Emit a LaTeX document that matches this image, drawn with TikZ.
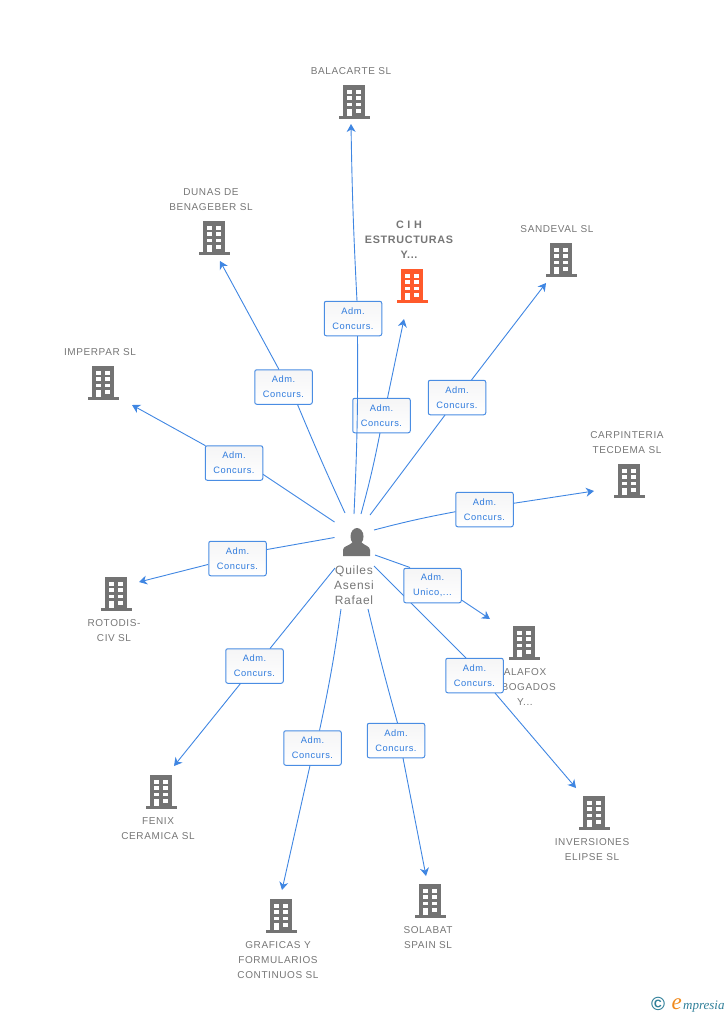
\documentclass[tikz,border=0pt]{standalone}
\usepackage{fontspec}
\setmainfont{Liberation Sans}
\newfontfamily\spaced[LetterSpace=6]{Liberation Sans}
\newfontfamily\spacedb[LetterSpace=6]{Liberation Sans Bold}
\newfontfamily\logoserif{Liberation Serif Italic}
\newfontfamily\logobold{Liberation Sans Bold}
\usetikzlibrary{arrows.meta}
\definecolor{gtxt}{HTML}{767676}
\definecolor{gicon}{HTML}{737373}
\definecolor{oicon}{HTML}{FF5A2B}
\definecolor{bline}{HTML}{3F86E2}
\definecolor{bbox}{HTML}{4A8DE3}
\definecolor{btxt}{HTML}{2F7BDD}
\definecolor{teal}{HTML}{2F7F99}
\definecolor{orng}{HTML}{F08A1D}
\definecolor{boxtop}{HTML}{F5F5F6}
\tikzset{
  x=1pt,y=-1pt,
  conn/.style={bline,line width=0.9pt},
  arr/.style={conn,-{Stealth[length=8pt,width=9pt,inset=2.5pt]}},
  lab/.style={draw=bbox,line width=1pt,top color=boxtop,bottom color=white,rounded corners=2pt,minimum width=57.5pt,minimum height=34.5pt,inner sep=0pt,align=center,text=btxt,font=\spaced\fontsize{9.3}{15}\selectfont},
  bname/.style={text=gtxt,align=center,inner sep=0pt,font=\spaced\fontsize{10}{15}\selectfont},
  pics/bldg/.style={code={
    \fill[#1] (-11,-17) rectangle (11,14);
    \fill[#1] (-15,14) rectangle (16,16.5);
    \foreach \yy/\zz in {-12.5/-8.5,-6/-2,0.5/4,7/11}{
      \fill[white] (2,\yy) rectangle (7,\zz);}
    \foreach \yy/\zz in {-12.5/-8.5,-6/-2,0.5/4,7/14}{
      \fill[white] (-7,\yy) rectangle (-2,\zz);}
  }},
}
\begin{document}
\begin{tikzpicture}
\useasboundingbox (0,0) rectangle (728,1015);
% buildings
\pic at (354,102) {bldg=gicon};
\pic at (412,286) {bldg=oicon};
\pic at (561,260) {bldg=gicon};
\pic at (214,238) {bldg=gicon};
\pic at (103,383) {bldg=gicon};
\pic at (629,481) {bldg=gicon};
\pic at (116,594) {bldg=gicon};
\pic at (524,643) {bldg=gicon};
\pic at (161,792) {bldg=gicon};
\pic at (281,916) {bldg=gicon};
\pic at (430,901) {bldg=gicon};
\pic at (594,813) {bldg=gicon};
% building names
\node[bname] (nBal) at (351,71) {BALACARTE SL};
\node[bname,font=\spacedb\fontsize{10.8}{15}\selectfont] (nCih) at (409,240) {C I H\\ESTRUCTURAS\\Y...};
\node[bname] (nSan) at (557,229) {SANDEVAL SL};
\node[bname] (nDun) at (211,199.5) {DUNAS DE\\BENAGEBER SL};
\node[bname] (nImp) at (100,352) {IMPERPAR SL};
\node[bname] (nCar) at (627,442.5) {CARPINTERIA\\TECDEMA SL};
\node[bname] (nRot) at (114,631) {ROTODIS-\\CIV SL};
\node[bname] (nAla) at (525,687) {ALAFOX\\ABOGADOS\\Y...};
\node[bname] (nFen) at (158,828.5) {FENIX\\CERAMICA SL};
\node[bname] (nGra) at (278,960) {GRAFICAS Y\\FORMULARIOS\\CONTINUOS SL};
\node[bname] (nSol) at (428,937.5) {SOLABAT\\SPAIN SL};
\node[bname] (nInv) at (592,849.5) {INVERSIONES\\ELIPSE SL};
% person
\fill[gicon] (357,536.5) ellipse (6.5 and 8.5);
\fill[gicon] (343,556) -- (343,550) .. controls (343,546) and (349,546) .. (353,542) -- (361,542) .. controls (365,546) and (370,546) .. (370,550) -- (370,556) -- cycle;
\node[bname,font=\spaced\fontsize{12}{15}\selectfont] (person) at (354,585) {Quiles\\Asensi\\Rafael};
% start and end points
\coordinate (s1) at (361,514);   \coordinate (e1) at (404,319);
\coordinate (s2) at (354,514);   \coordinate (e2) at (351,124);
\coordinate (s3) at (370,515);   \coordinate (e3) at (546,283);
\coordinate (s4) at (374,530);   \coordinate (e4) at (594,491);
\coordinate (s5) at (374,566);   \coordinate (e5) at (576,788);
\coordinate (s6) at (375,555);   \coordinate (e6) at (490,619);
\coordinate (s7) at (368,609);   \coordinate (e7) at (426,876);
\coordinate (s8) at (341,609);   \coordinate (e8) at (282,890);
\coordinate (s9) at (335,568);   \coordinate (e9) at (174,766);
\coordinate (s10) at (334.5,537.5); \coordinate (e10) at (139,582);
\coordinate (s11) at (334.5,522);   \coordinate (e11) at (132,405);
\coordinate (s12) at (345,513);  \coordinate (e12) at (220,261);
% CIH
\node[lab] (l1) at (381.5,415.5) {Adm.\\Concurs.};
\draw[conn] (s1) to[bend right=2] ([shift={(-1.5,17.5)}]l1.center);
\draw[arr] ([shift={(6,-17.5)}]l1.center) to (e1);
% BALACARTE
\node[lab] (l2) at (353,318.5) {Adm.\\Concurs.};
\draw[conn] (s2) to[bend right=1.5] ([shift={(4.5,17.5)}]l2.center);
\draw[arr] ([shift={(4,-17.5)}]l2.center) to[bend left=1] (e2);
% SANDEVAL
\node[lab] (l3) at (457,397.5) {Adm.\\Concurs.};
\draw[conn] (s3) to ([shift={(-12,17.5)}]l3.center);
\draw[arr] ([shift={(14.5,-17.5)}]l3.center) to (e3);
% CARPINTERIA
\node[lab] (l4) at (484.5,509.5) {Adm.\\Concurs.};
\draw[conn] (s4) to[bend left=2] ([shift={(-29,2.2)}]l4.center);
\draw[arr] ([shift={(29,-6.2)}]l4.center) to (e4);
% INVERSIONES
\node[lab] (l5) at (474.5,675.5) {Adm.\\Concurs.};
\draw[conn] (s5) to ([shift={(-8.5,-17.5)}]l5.center);
\draw[arr] ([shift={(20.5,17.5)}]l5.center) to (e5);
% ALAFOX
\node[lab] (l6) at (432.5,585.5) {Adm.\\Unico,...};
\draw[conn] (s6) to ([shift={(-22.5,-18)}]l6.center);
\draw[arr] ([shift={(29,14.5)}]l6.center) to (e6);
% SOLABAT
\node[lab] (l7) at (396,740.5) {Adm.\\Concurs.};
\draw[conn] (s7) to[bend right=1] ([shift={(1.5,-17.5)}]l7.center);
\draw[arr] ([shift={(7,17.5)}]l7.center) to (e7);
% GRAFICAS
\node[lab] (l8) at (312.5,748) {Adm.\\Concurs.};
\draw[conn] (s8) to[bend left=2] ([shift={(7,-17.5)}]l8.center);
\draw[arr] ([shift={(-2.5,17.5)}]l8.center) to (e8);
% FENIX
\node[lab] (l9) at (254.5,666) {Adm.\\Concurs.};
\draw[conn] (s9) to ([shift={(15.5,-17.5)}]l9.center);
\draw[arr] ([shift={(-14,17.5)}]l9.center) to (e9);
% ROTODIS
\node[lab] (l10) at (237.5,558.5) {Adm.\\Concurs.};
\draw[conn] (s10) to ([shift={(29.5,-9)}]l10.center);
\draw[arr] ([shift={(-29.5,6)}]l10.center) to (e10);
% IMPERPAR
\node[lab] (l11) at (234,463) {Adm.\\Concurs.};
\draw[conn] (s11) to ([shift={(29,11.3)}]l11.center);
\draw[arr] ([shift={(-28.5,-17.3)}]l11.center) to (e11);
% DUNAS
\node[lab] (l12) at (283.5,387) {Adm.\\Concurs.};
\draw[conn] (s12) to[bend left=1] ([shift={(14,17.5)}]l12.center);
\draw[arr] ([shift={(-4.5,-17.5)}]l12.center) to (e12);
% logo
\node[text=teal,inner sep=0pt,font=\logobold\fontsize{19}{19}\selectfont] (logoC) at (658,1004) {©};
\node[anchor=base west,inner sep=0pt,text=orng,font=\logoserif\fontsize{23}{23}\selectfont] (logoE) at (671.5,1009) {e};
\node[anchor=base west,inner sep=0pt,text=teal,font=\logoserif\fontsize{13}{13}\selectfont] (logoT) at (683,1009) {mpresia};
\end{tikzpicture}
\end{document}
